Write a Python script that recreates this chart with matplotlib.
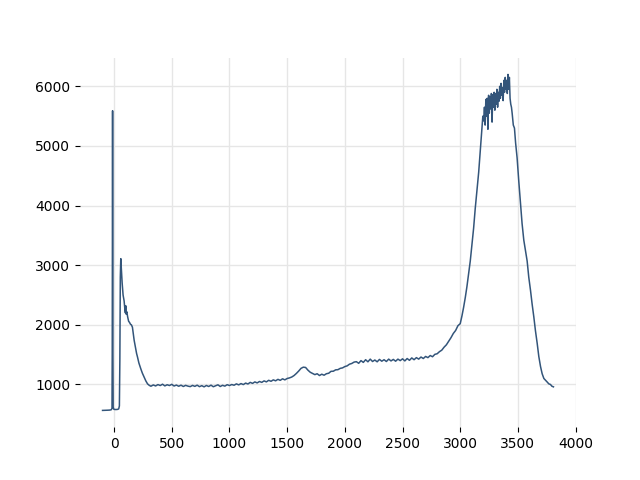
import matplotlib
matplotlib.use("Agg")
import matplotlib.pyplot as plt

# start: flat base, narrow spike, second peak and decay
x_start = [-100, -80, -60, -40, -25, -18, -16, -13, -10, -8, -4, 0, 10, 20, 30, 40, 46, 50, 54, 58,
           64, 70, 78, 87, 94, 98, 101, 104, 110, 118, 126, 134, 142, 150, 159, 166, 174, 185, 195,
           203, 215, 232, 245, 261, 275, 290, 305, 319]
y_start = [565, 566, 568, 570, 575, 600, 1500, 5590, 1500, 620, 590, 582, 580, 580, 582, 590, 640, 1400,
           2800, 3110, 2900, 2700, 2500, 2400, 2250, 2200, 2320, 2180, 2220, 2130, 2060, 2040, 2010, 2000,
           1960, 1860, 1740, 1620, 1520, 1460, 1360, 1260, 1190, 1120, 1060, 1010, 985, 970]

# long flat stretch
x_flat = list(range(340, 1501, 20))
y_flat = [992, 975, 998, 982, 1004, 976, 995, 982, 1002, 974, 990, 970, 988, 966, 985, 972, 964, 984,
          968, 988, 963, 980, 960, 983, 966, 988, 962, 978, 994, 966, 986, 972, 996, 982, 999, 987,
          1010, 993, 1015, 998, 1023, 1008, 1035, 1018, 1043, 1026, 1050, 1035, 1060, 1043, 1070,
          1053, 1077, 1061, 1086, 1069, 1095, 1077, 1100]

# small bump and slow rise
x_mid = list(range(1520, 2981, 20))
y_mid = [1110, 1125, 1150, 1185, 1225, 1270, 1290, 1285, 1240, 1205, 1185, 1165, 1180, 1150, 1172,
         1155, 1180, 1188, 1220, 1222, 1245, 1248, 1270, 1278, 1300, 1312, 1340, 1352, 1375, 1382,
         1355, 1400, 1370, 1415, 1380, 1425, 1385, 1410, 1380, 1420, 1390, 1415, 1385, 1425, 1395,
         1420, 1390, 1425, 1400, 1430, 1395, 1435, 1405, 1445, 1415, 1450, 1425, 1460, 1435, 1470,
         1450, 1485, 1465, 1505, 1515, 1550, 1575, 1625, 1665, 1725, 1785, 1855, 1905, 1985]

# big peak
x_peak = [3000, 3015, 3029, 3044, 3058, 3072, 3087, 3101, 3116, 3130, 3145, 3160, 3174, 3188, 3196,
          3203, 3210, 3216, 3222, 3228, 3234, 3240, 3246, 3252, 3258, 3264, 3270, 3276, 3282, 3288,
          3294, 3300, 3306, 3312, 3318, 3324, 3330, 3336, 3342, 3348, 3354, 3360, 3366, 3372, 3378,
          3384, 3390, 3396, 3402, 3408, 3414, 3420, 3426, 3432, 3438, 3444, 3450, 3460, 3470, 3480,
          3493, 3507, 3522, 3536, 3551, 3565, 3580, 3594, 3609, 3623, 3638, 3652, 3667, 3681, 3696,
          3710, 3725, 3740, 3754, 3768, 3782, 3795, 3808]
y_peak = [2020, 2150, 2290, 2460, 2640, 2850, 3070, 3330, 3620, 3950, 4250, 4560, 4920, 5300, 5500,
          5420, 5650, 5350, 5780, 5500, 5800, 5280, 5850, 5550, 5820, 5620, 5880, 5400, 5860, 5650,
          5900, 5600, 5880, 5700, 5950, 5650, 5900, 5750, 6000, 5800, 6050, 5850, 5980, 5760, 6100,
          5900, 6150, 5950, 6100, 5880, 6200, 5950, 6150, 5800, 5700, 5650, 5550, 5350, 5300, 5050,
          4800, 4420, 4050, 3700, 3420, 3250, 3070, 2800, 2580, 2350, 2130, 1900, 1690, 1470, 1300,
          1180, 1100, 1070, 1040, 1010, 1000, 970, 960]

x = x_start + x_flat + x_mid + x_peak
y = y_start + y_flat + y_mid + y_peak

fig, ax = plt.subplots(figsize=(6.4, 4.8), dpi=100)
ax.plot(x, y, color='#33557a', linewidth=1.1)
ax.grid(True, color='#e6e6e6', linewidth=1)
ax.set_axisbelow(True)
for s in ax.spines.values():
    s.set_visible(False)
fig.savefig('out.png')
